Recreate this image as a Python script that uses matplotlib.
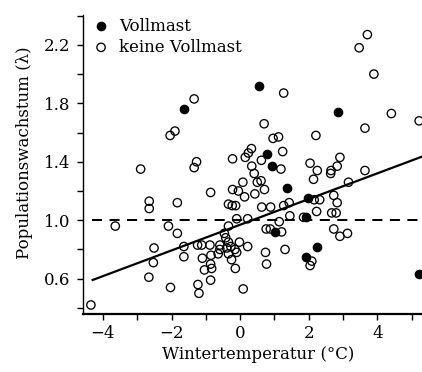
import matplotlib
matplotlib.use("Agg")
import matplotlib.pyplot as plt
import numpy as np
from matplotlib.ticker import FixedLocator

plt.rcParams["font.family"] = ["DejaVu Serif"]

# Winter temperature (°C) and population growth rate (lambda)
temp_vollmast = [-1.64, 0.54, 2.84, 0.78, 0.93, 1.38, 1.97, 1.92, 1.03, 2.23, 1.91, 5.23]
lam_vollmast = [1.76, 1.92, 1.74, 1.45, 1.37, 1.22, 1.15, 1.02, 0.92, 0.82, 0.75, 0.63]

temp_keine = [
    3.71, 3.47, 3.90, 1.27, -1.34, 4.41, 5.22, 0.70, 3.64, -1.90,
    -2.04, 2.21, 0.96, 1.12, -2.90, -1.27, -1.34, 1.24, -0.22, 0.15,
    0.24, 0.33, 0.62, 0.34, 1.19, 2.04, 2.25, 2.91, 2.83, 2.65,
    2.64, 3.64, 0.41, 2.14, 3.16, 0.50, 0.61, 0.08, 0.71, 0.43,
    -0.22, -0.05, 0.13, -0.86, -0.34, -0.23, -0.13, 0.63, 0.89, 1.27,
    1.43, 2.16, 2.32, 2.23, 2.73, 2.83, 2.67, 2.80, 1.45, 1.85,
    1.14, -0.10, 0.22, -0.34, 0.76, 0.88, 1.21, -0.46, -0.42, 2.73,
    2.91, 3.13, -1.24, -1.12, -0.88, -0.59, -0.34, -0.27, -0.02, 0.22,
    -0.59, -0.39, -0.15, -0.64, -0.34, -0.10, 0.74, -1.10, -0.85, -0.25,
    0.77, -0.86, -0.83, -1.04, -0.14, -0.86, -1.23, -1.20, 0.09, 1.31,
    2.09, 2.04, -2.65, -2.65, -1.83, -3.64, -2.09, -1.83, -2.51, -2.53,
    -1.64, -1.64, -2.66, -2.03, -4.35,
]
lam_keine = [
    2.27, 2.18, 2.00, 1.87, 1.83, 1.73, 1.68, 1.66, 1.63, 1.61,
    1.58, 1.58, 1.56, 1.57, 1.35, 1.40, 1.36, 1.47, 1.42, 1.43,
    1.46, 1.49, 1.41, 1.37, 1.35, 1.39, 1.34, 1.43, 1.37, 1.34,
    1.32, 1.34, 1.32, 1.28, 1.26, 1.26, 1.27, 1.26, 1.21, 1.18,
    1.21, 1.20, 1.16, 1.19, 1.11, 1.10, 1.10, 1.09, 1.09, 1.10,
    1.12, 1.14, 1.14, 1.06, 1.17, 1.12, 1.05, 1.05, 1.03, 1.02,
    0.99, 1.01, 1.01, 0.96, 0.94, 0.94, 0.92, 0.91, 0.88, 0.94,
    0.89, 0.91, 0.83, 0.83, 0.83, 0.83, 0.85, 0.82, 0.85, 0.82,
    0.80, 0.81, 0.80, 0.77, 0.77, 0.78, 0.78, 0.74, 0.76, 0.73,
    0.70, 0.70, 0.67, 0.66, 0.67, 0.59, 0.56, 0.50, 0.53, 0.80,
    0.72, 0.69, 1.13, 1.08, 1.12, 0.96, 0.96, 0.91, 0.81, 0.71,
    0.82, 0.75, 0.61, 0.54, 0.42,
]

# Linear regression of lambda on temperature
fit_intercept = 0.969
fit_slope = 0.0879
line_x = [-4.33, 5.6]

legend_labels = ["Vollmast", "keine Vollmast"]
xlabel = "Wintertemperatur (°C)"
ylabel = "Populationswachstum (λ)"

fig = plt.figure(figsize=(4.22, 3.72), dpi=100)
ax = fig.add_axes([0.196, 0.155, 0.804, 0.805])

xs = np.array(line_x)
ax.plot(xs, fit_intercept + fit_slope * xs, color="black", lw=1.6, zorder=3,
        solid_capstyle="butt")
ax.plot(xs, [1.0, 1.0], color="black", lw=1.45, linestyle=(0, (5, 3.7)), zorder=3)

ax.scatter(temp_keine, lam_keine, s=36, facecolors="none", edgecolors="black",
           linewidths=0.95, zorder=4, label=legend_labels[1])
ax.scatter(temp_vollmast, lam_vollmast, s=36, facecolors="black", edgecolors="black",
           linewidths=0.95, zorder=5, label=legend_labels[0])

ax.set_xlim(-4.589, 5.303)
ax.set_ylim(0.356, 2.405)

ax.xaxis.set_major_locator(FixedLocator([-4, -2, 0, 2, 4]))
ax.xaxis.set_minor_locator(FixedLocator([-3, -1, 1, 3, 5]))
ax.yaxis.set_major_locator(FixedLocator([0.6, 1.0, 1.4, 1.8, 2.2]))
ax.yaxis.set_minor_locator(FixedLocator([0.4, 0.8, 1.2, 1.6, 2.0, 2.4]))
ax.xaxis.set_major_formatter(plt.FuncFormatter(lambda v, p: f"{v:.0f}".replace("-", "\u2212")))
ax.yaxis.set_major_formatter(plt.FuncFormatter(lambda v, p: f"{v:.1f}"))

ax.tick_params(which="both", direction="out", length=4, width=1.0, labelsize=12)
ax.tick_params(axis="x", which="both", pad=4)
ax.tick_params(axis="y", which="both", pad=5)

for side in ("top", "right"):
    ax.spines[side].set_visible(False)
ax.spines["bottom"].set_linewidth(1.6)
ax.spines["left"].set_linewidth(1.0)

ax.set_xlabel(xlabel, fontsize=12)
ax.set_ylabel(ylabel, fontsize=12)
ax.xaxis.set_label_coords(0.518, -0.105)
ax.yaxis.set_label_coords(-0.147, 0.539)

handles, labels = ax.get_legend_handles_labels()
order = [labels.index(l) for l in legend_labels]
ax.legend([handles[i] for i in order], [labels[i] for i in order],
          loc="upper left", bbox_to_anchor=(0.0, 1.03), frameon=False,
          fontsize=12, handlelength=0.8, handletextpad=0.7, labelspacing=0.25,
          borderaxespad=0.3)

fig.savefig("out.png", dpi=100)
